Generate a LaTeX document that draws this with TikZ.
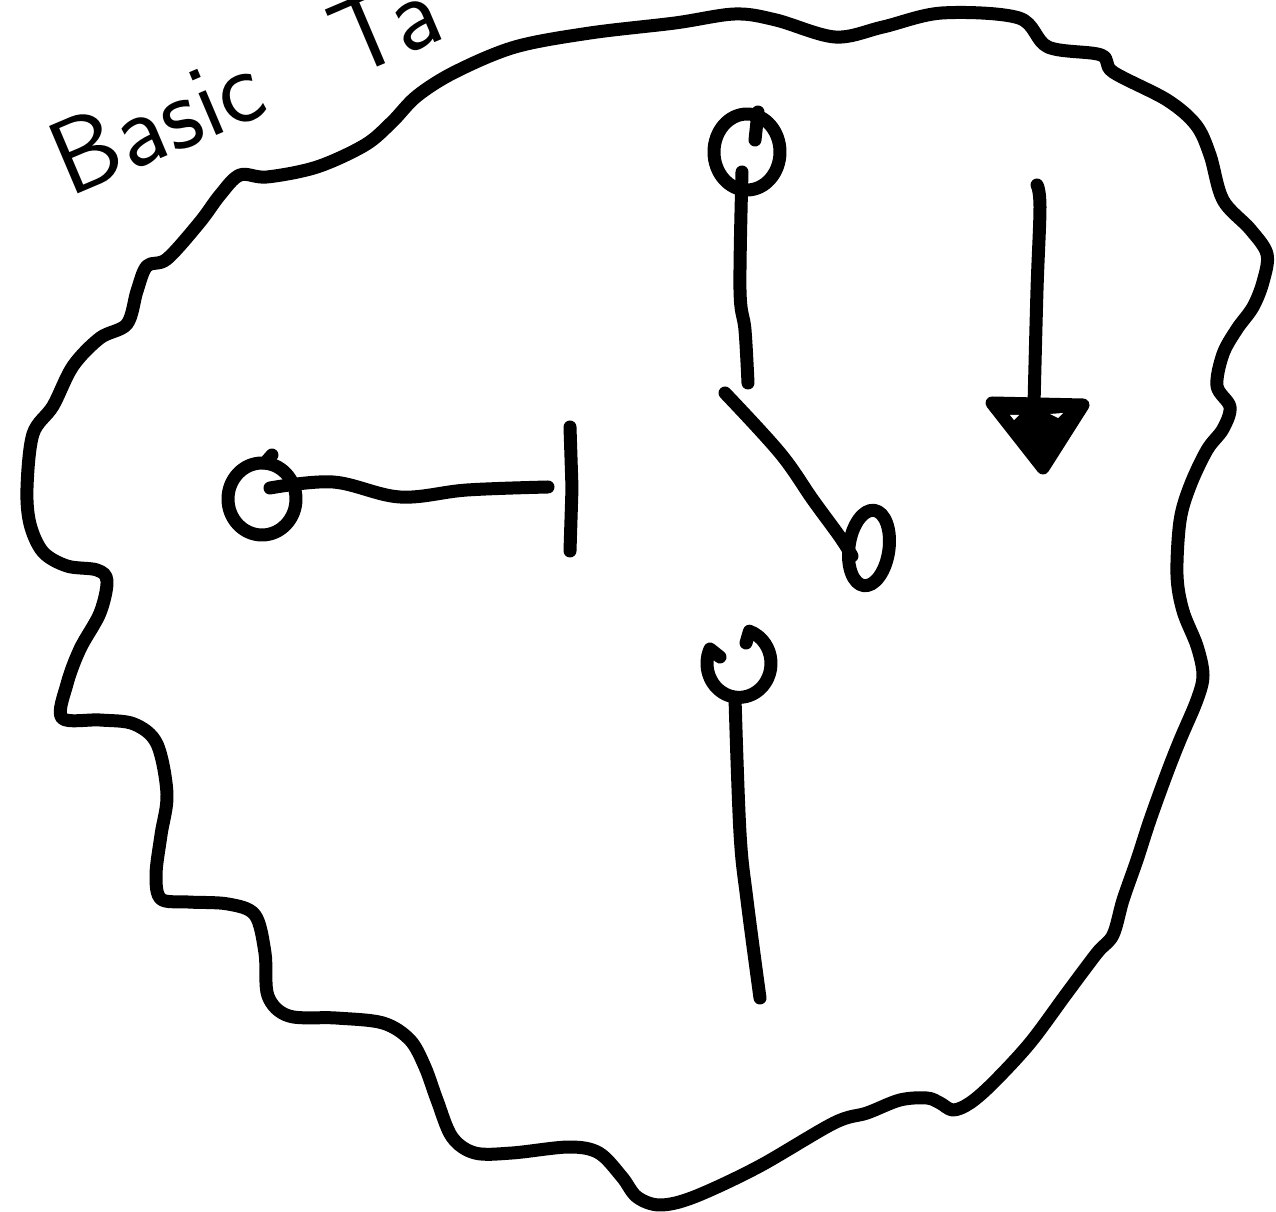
\documentclass[tikz,border=0pt]{standalone}
\usepackage{tikz}
\usetikzlibrary{calc}
\definecolor{ink}{RGB}{0,0,0}

\begin{document}
\begin{tikzpicture}[x=0.02cm,y=-0.02cm,
  pen/.style={draw=ink,line width=0.26cm,line cap=round,line join=round}]
  \useasboundingbox (0,0) rectangle (1276,1212);
  \clip (0,0) rectangle (1276,1212);
  % title, runs off the top edge
  \node[anchor=base west,rotate=23,text=ink,
    font=\sffamily\fontsize{60}{60}\selectfont] (title) at (64,200) {Basic\hspace{0.5em} Ta};
  % field outline
  \draw[pen] plot[smooth cycle,tension=0.55] coordinates {
    (200,222) (220,195) (240,175) (267,177) (317,167) (365,145) (392,122)
    (417,96) (455,72) (515,47) (590,33) (675,23) (735,14) (776,20) (835,37)
    (883,27) (942,13) (1019,18) (1048,47) (1101,55) (1113,72) (1167,100)
    (1196,125) (1210,155) (1223,200) (1250,229) (1267,254) (1263,282)
    (1253,307) (1237,329) (1223,354) (1217,386) (1230,407) (1223,429)
    (1207,450) (1190,486) (1180,521) (1177,575) (1183,611) (1197,646)
    (1203,675) (1197,700) (1180,740) (1167,773) (1150,820) (1137,860)
    (1123,900) (1113,935) (1097,953) (1067,993) (1030,1043) (993,1083)
    (970,1103) (953,1110) (940,1103) (927,1098) (900,1100) (867,1113)
    (834,1123) (758,1167) (694,1197) (660,1205) (637,1197) (622,1177)
    (599,1153) (569,1147) (512,1153) (475,1153) (452,1137) (437,1100)
    (425,1067) (410,1040) (383,1023) (336,1018) (289,1016) (268,996)
    (265,953) (255,915) (228,904) (188,902) (161,899) (156,875) (161,835)
    (167,794) (157,744) (134,724) (100,720) (62,718) (67,684) (80,649)
    (100,613) (107,581) (97,570) (67,566) (43,552) (30,524) (27,488)
    (33,434) (53,406) (73,366) (100,338) (127,324) (137,291) (147,266)
    (167,259)};
  % left ring and bar
  \coordinate (lring) at (262,499);
  \coordinate (lbar) at (570,427);
  \draw[pen] (lring) ellipse [x radius=34,y radius=36];
  \draw[pen] (265,463) -- (272,455);
  \draw[pen] plot[smooth,tension=0.6] coordinates {
    (270,488) (333,482) (400,497) (467,490) (548,487)};
  \draw[pen] (lbar) -- (572,488) -- (570,551);
  % top ring and stick
  \coordinate (tring) at (747,152);
  \draw[pen] (tring) ellipse [x radius=33,y radius=38];
  \draw[pen] (758,112) -- (755,140);
  \draw[pen] plot[smooth,tension=0.6] coordinates {
    (742,172) (740,290) (745,330) (748,383)};
  % diagonal stick with loop
  \coordinate (dring) at (869,548);
  \draw[pen] plot[smooth,tension=0.6] coordinates {
    (725,393) (780,453) (813,500) (840,537) (852,556)};
  \draw[pen,rotate around={-8:(dring)}] (dring) ellipse [x radius=20,y radius=38];
  % arrow
  \coordinate (atop) at (1037,185);
  \coordinate (atip) at (1043,468);
  \draw[pen] plot[smooth,tension=0.6] coordinates {
    (atop) (1040,207) (1037,290) (1034,405)};
  \filldraw[pen,fill=ink] (992,403) -- (1083,405) -- (atip) -- cycle;
  \fill[white] (1010,415) -- (1019,415) -- (1014,420) -- cycle;
  \fill[white] (1050,414) -- (1063,413) -- (1058,418) -- cycle;
  % bottom hook and stick
  \coordinate (bring) at (738,662);
  \draw[pen] (720,657) -- (710,649) arc[start angle=205,end angle=-71,x radius=32,y radius=34] -- (746,643);
  \draw[pen] plot[smooth,tension=0.6] coordinates {
    (735,698) (740,833) (747,900) (760,998)};
\end{tikzpicture}
\end{document}
